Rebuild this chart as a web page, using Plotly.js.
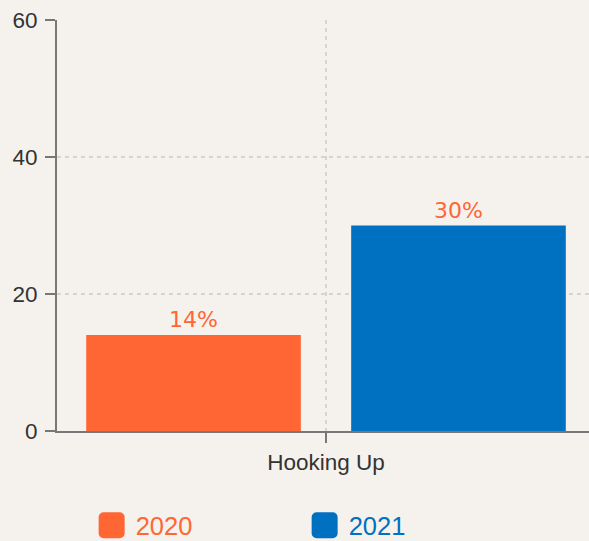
<!DOCTYPE html>
<html>
<head>
<meta charset="utf-8">
<script src="https://cdn.plot.ly/plotly-3.0.1.min.js"></script>
<style>
html,body{margin:0;padding:0;overflow:hidden;background:#f5f2ed;}
#chart{width:595px;height:541px;}
</style>
</head>
<body>
<div id="chart"></div>
<script>
const categories = ['Hooking Up'];
const seriesNames = ['2020', '2021'];
const values2020 = [14];
const values2021 = [30];
const yTicks = [0, 20, 40, 60];

const orange = '#ff6633';
const blue = '#0070c0';

const traces = [
  {
    type: 'bar', x: categories, y: values2020,
    name: '<span style="color:' + orange + '">' + seriesNames[0] + '</span>',
    marker: {color: orange},
    texttemplate: '%{y}%', textposition: 'outside', cliponaxis: false,
    textfont: {color: orange, size: 22, family: 'DejaVu Sans, sans-serif'},
    hoverinfo: 'none'
  },
  {
    type: 'bar', x: categories, y: values2021,
    name: '<span style="color:' + blue + '">' + seriesNames[1] + '</span>',
    marker: {color: blue},
    texttemplate: '%{y}%', textposition: 'outside', cliponaxis: false,
    textfont: {color: orange, size: 22, family: 'DejaVu Sans, sans-serif'},
    hoverinfo: 'none'
  }
];

const layout = {
  width: 595, height: 541,
  paper_bgcolor: '#f5f2ed', plot_bgcolor: '#f5f2ed',
  margin: {l: 57, r: 0, t: 20, b: 110, autoexpand: false},
  font: {family: 'Liberation Sans, Arial, sans-serif', color: '#333', size: 22},
  barmode: 'group', bargap: 0.015, bargroupgap: 0.19,
  showlegend: true,
  legend: {
    orientation: 'h', x: 0.0644, xanchor: 'left', y: -0.173, yanchor: 'top',
    font: {size: 25.5}, entrywidth: 168, entrywidthmode: 'pixels',
    bgcolor: 'rgba(0,0,0,0)'
  },
  xaxis: {
    type: 'category',
    showline: true, linecolor: '#777', linewidth: 2,
    ticks: 'outside', ticklen: 10, tickwidth: 2, tickcolor: '#777',
    showgrid: true, gridcolor: '#d6d4d0', griddash: '4px,4px', gridwidth: 1.5,
    tickfont: {size: 22.5, color: '#333'}, zeroline: false
  },
  yaxis: {
    range: [0, 60], tickvals: yTicks,
    showline: true, linecolor: '#777', linewidth: 2,
    ticks: 'outside', ticklen: 10, tickwidth: 2, tickcolor: '#777',
    ticklabelstandoff: 3,
    showgrid: true, gridcolor: '#d6d4d0', griddash: '4px,4px', gridwidth: 1.5,
    tickfont: {size: 22.5, color: '#333'}, zeroline: false
  }
};

Plotly.newPlot('chart', traces, layout, {displayModeBar: false, staticPlot: true}).then(function(gd){
  gd.querySelectorAll('.legend .legendpoints path').forEach(function(p){
    p.setAttribute('d', 'M-8,-13H8A5,5 0 0 1 13,-8V8A5,5 0 0 1 8,13H-8A5,5 0 0 1 -13,8V-8A5,5 0 0 1 -8,-13Z');
  });
  gd.querySelectorAll('.legend .legendtext').forEach(function(t){
    const x = parseFloat(t.getAttribute('x') || '40');
    t.setAttribute('x', x + 4);
  });
});
</script>
</body>
</html>
